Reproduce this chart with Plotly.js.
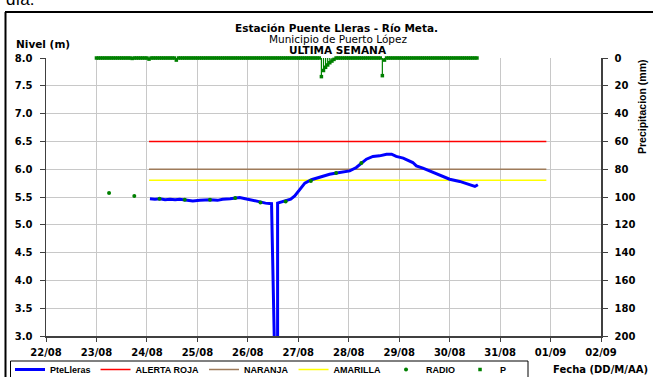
<!DOCTYPE html>
<html>
<head>
<meta charset="utf-8">
<script src="https://cdn.plot.ly/plotly-3.0.1.min.js"></script>
<style>html,body{margin:0;padding:0;background:#fff;}#chart{width:653px;height:377px;}</style>
</head>
<body>
<div id="chart"></div>
<script>
// ---------- DATA ----------
const levelTimes = [
  '2012-08-24 01:26','2012-08-24 03:50','2012-08-24 06:14','2012-08-24 08:38','2012-08-24 11:02',
  '2012-08-24 13:26','2012-08-24 15:36','2012-08-24 18:00','2012-08-24 21:50','2012-08-25 01:12',
  '2012-08-25 06:00','2012-08-25 09:36','2012-08-25 12:00','2012-08-25 15:36','2012-08-25 20:10',
  '2012-08-25 22:48','2012-08-26 02:24','2012-08-26 05:46','2012-08-26 08:24','2012-08-26 11:17',
  '2012-08-26 12:00','2012-08-26 14:10','2012-08-26 14:10','2012-08-26 15:50','2012-08-26 18:29',
  '2012-08-26 20:24','2012-08-26 22:19','2012-08-27 00:43','2012-08-27 03:07','2012-08-27 06:14',
  '2012-08-27 09:07','2012-08-27 11:46','2012-08-27 14:53','2012-08-27 18:14','2012-08-27 21:36',
  '2012-08-28 00:29','2012-08-28 03:36','2012-08-28 06:00','2012-08-28 08:24','2012-08-28 11:31',
  '2012-08-28 14:38','2012-08-28 18:00','2012-08-28 20:24','2012-08-28 22:34','2012-08-29 01:55',
  '2012-08-29 06:29','2012-08-29 08:10','2012-08-29 11:17','2012-08-29 16:05','2012-08-29 20:53',
  '2012-08-30 00:00','2012-08-30 04:48','2012-08-30 09:36','2012-08-30 12:00','2012-08-30 13:26'
];
const levelValues = [
  5.47,5.46,5.47,5.45,5.46,
  5.45,5.46,5.45,5.43,5.44,
  5.45,5.44,5.46,5.47,5.49,
  5.47,5.44,5.40,5.39,5.38,
  0.0,0.0,5.39,5.41,5.44,
  5.46,5.52,5.64,5.75,5.81,
  5.84,5.87,5.91,5.93,5.95,
  5.97,6.03,6.11,6.18,6.23,
  6.24,6.27,6.27,6.23,6.20,
  6.12,6.06,6.02,5.94,5.87,
  5.82,5.78,5.72,5.69,5.72
];

const alertTimes = ['2012-08-24 01:00','2012-08-31 22:00'];
const alertaRoja = [6.5, 6.5];
const alertaNaranja = [6.0, 6.0];
const alertaAmarilla = [5.8, 5.8];

const radioTimes = [
  '2012-08-23 06:00','2012-08-23 18:00','2012-08-24 06:00','2012-08-24 18:00',
  '2012-08-25 06:00','2012-08-25 18:00','2012-08-26 06:00','2012-08-26 18:00',
  '2012-08-27 06:00','2012-08-27 18:00','2012-08-28 06:00'
];
const radioValues = [5.57,5.52,5.47,5.45,5.45,5.48,5.40,5.42,5.79,5.93,6.11];

// hourly precipitation (mm) starting 23/08 00:00, last reading 30/08 13:00
const precipStart = '2012-08-23T00:00:00Z';
const precipValues = [
  0,0,0,0,0,0,0,0,0,0,0,0,0,0,0,0,0,0.3,0,0,0,0,0,0,               // 23/08
  0,0.8,0,0,0,0,0,0,0,0,0,0,0,0,1.5,0,0,0,0,0,0,0,0,0,             // 24/08
  0,0,0,0,0,0,0,0,0,0,0,0,0,0,0,0,0,0,0,0,0,0,0,0,                 // 25/08
  0,0,0,0,0,0,0,0,0,0,0,0,0,0,0,0,0,0,0,0,0,0,0,0,                 // 26/08
  0,0,0,0,0,0,0,0,0,0,0,13.4,9.0,6.7,5.0,3.4,2.2,1.0,0,0,0,0,0,0,  // 27/08
  0,0,0,0,0,0,0,0,0,0,0,0,0,0,0,0,12.7,1.5,0,0,0,0,0,0,            // 28/08
  0,0,0,0,0,0,0,0,0,0,0,0,0,0,0,0,0,0,0,0,0,0,0,0,                 // 29/08
  0,0,0,0,0,0,0,0,0,0,0,0,0,0                                      // 30/08
];

const xRange = ['2012-08-22 00:00','2012-09-02 00:00'];
const levelRange = [3, 8];
const precipRange = [200, 0];

// ---------- BUILD ----------
const t0 = Date.parse(precipStart);
function fmt(ms){
  const d = new Date(ms);
  const p = n => String(n).padStart(2,'0');
  return d.getUTCFullYear()+'-'+p(d.getUTCMonth()+1)+'-'+p(d.getUTCDate())+' '+p(d.getUTCHours())+':'+p(d.getUTCMinutes());
}
const precipTimes = precipValues.map((v,i)=>fmt(t0 + i*3600000));
const stemX = [], stemY = [];
precipValues.forEach((v,i)=>{ if(v>0){ stemX.push(precipTimes[i],precipTimes[i],null); stemY.push(0,v,null);} });

const ARIAL = 'Arial, "Liberation Sans", sans-serif';
const WIDE = '"DejaVu Sans", Verdana, sans-serif';
const GREEN = '#008000';

// plot area geometry (pixels) for placing text/frame
const L=46, R=52, T=58, B=41, W=653, H=377;
const pw = W-L-R, ph = H-T-B;
const px = x => (x-L)/pw;
const py = y => (H-B-y)/ph;

const traces = [
  {x:alertTimes, y:alertaRoja, name:'ALERTA ROJA', mode:'lines', line:{color:'#FF0000', width:1.5}, legendrank:2},
  {x:alertTimes, y:alertaNaranja, name:'NARANJA', mode:'lines', line:{color:'#9E7B5A', width:1.5}, legendrank:3},
  {x:alertTimes, y:alertaAmarilla, name:'AMARILLA', mode:'lines', line:{color:'#FFFF00', width:1.5}, legendrank:4},
  {x:levelTimes, y:levelValues, name:'PteLleras', mode:'lines', line:{color:'#0000FF', width:3}, legendrank:1},
  {x:radioTimes, y:radioValues, name:'RADIO', mode:'markers', marker:{color:GREEN, size:4, symbol:'circle'}, legendrank:5},
  {x:stemX, y:stemY, yaxis:'y2', mode:'lines', line:{color:GREEN, width:1.2}, showlegend:false, cliponaxis:false, hoverinfo:'skip'},
  {x:precipTimes, y:precipValues, yaxis:'y2', name:'P', mode:'markers', marker:{color:GREEN, size:3.5, symbol:'square'}, cliponaxis:false, legendrank:6}
];

const tickFont = {family:WIDE, size:10, color:'#000', weight:'bold'};

const layout = {
  width:W, height:H,
  margin:{l:L, r:R, t:T, b:B, pad:0, autoexpand:false},
  paper_bgcolor:'#fff', plot_bgcolor:'#fff',
  showlegend:true,
  font:{family:ARIAL, color:'#000'},
  xaxis:{
    type:'date', range:xRange, dtick:86400000, tickformat:'%d/%m',
    tickfont:tickFont, showgrid:true, gridcolor:'#C8C8C8', gridwidth:1,
    showline:true, linecolor:'#404040', linewidth:1.5,
    ticks:'outside', ticklen:4, tickcolor:'#404040', zeroline:false, ticklabelstandoff:2
  },
  yaxis:{
    range:levelRange, dtick:0.5, tickformat:'.1f', tickfont:tickFont,
    showgrid:true, gridcolor:'#C8C8C8', gridwidth:1,
    showline:true, linecolor:'#404040', linewidth:1.5,
    ticks:'outside', ticklen:5, tickcolor:'#404040', zeroline:false, ticklabelstandoff:5
  },
  yaxis2:{
    overlaying:'y', side:'right', range:precipRange, dtick:20, tickfont:tickFont,
    showgrid:false, showline:true, linecolor:'#404040', linewidth:1.5,
    ticks:'outside', ticklen:5, tickcolor:'#404040', zeroline:false, ticklabelstandoff:5
  },
  legend:{
    orientation:'h', x:px(10), xanchor:'left', y:py(355), yanchor:'top',
    borderwidth:0, bgcolor:'rgba(0,0,0,0)',
    font:{family:ARIAL, size:9, color:'#000', weight:'bold'}, itemwidth:30, traceorder:'normal'
  },
  annotations:[
    {text:'Estación Puente Lleras - Río Meta.', xref:'paper', yref:'paper', x:px(336), y:py(28), showarrow:false, xanchor:'center', yanchor:'middle', font:{family:WIDE, size:10.5, weight:'bold', color:'#000'}},
    {text:'Municipio de Puerto López', xref:'paper', yref:'paper', x:px(338), y:py(39), showarrow:false, xanchor:'center', yanchor:'middle', font:{family:WIDE, size:10.5, color:'#000'}},
    {text:'ULTIMA SEMANA', xref:'paper', yref:'paper', x:px(338), y:py(50), showarrow:false, xanchor:'center', yanchor:'middle', font:{family:WIDE, size:10.5, weight:'bold', color:'#000'}},
    {text:'Nivel (m)', xref:'paper', yref:'paper', x:px(14), y:py(44), showarrow:false, xanchor:'left', yanchor:'middle', font:{family:WIDE, size:10.5, weight:'bold', color:'#000'}},
    {text:'Precipitacion (mm)', xref:'paper', yref:'paper', x:px(642), y:py(107), showarrow:false, textangle:-90, xanchor:'center', yanchor:'middle', font:{family:ARIAL, size:10.5, weight:'bold', color:'#000'}},
    {text:'Fecha (DD/M/AA)', xref:'paper', yref:'paper', x:px(650), y:py(369), showarrow:false, xanchor:'right', yanchor:'middle', font:{family:WIDE, size:10, weight:'bold', color:'#000'}},
    {text:'día.', xref:'paper', yref:'paper', x:px(4), y:py(-1), showarrow:false, xanchor:'left', yanchor:'middle', font:{family:ARIAL, size:17, color:'#000'}}
  ],
  shapes:[
    {type:'line', xref:'paper', yref:'paper', x0:px(5), x1:px(660), y0:py(12), y1:py(12), line:{color:'#000', width:2}},
    {type:'line', xref:'paper', yref:'paper', x0:px(5.5), x1:px(5.5), y0:py(12), y1:py(390), line:{color:'#000', width:2}},
    {type:'rect', xref:'paper', yref:'paper', x0:px(10.5), x1:px(528), y0:py(361), y1:py(395), line:{color:'#000', width:1}, fillcolor:'rgba(0,0,0,0)'}
  ]
};

Plotly.newPlot('chart', traces, layout, {staticPlot:true, displayModeBar:false});
</script>
</body>
</html>
